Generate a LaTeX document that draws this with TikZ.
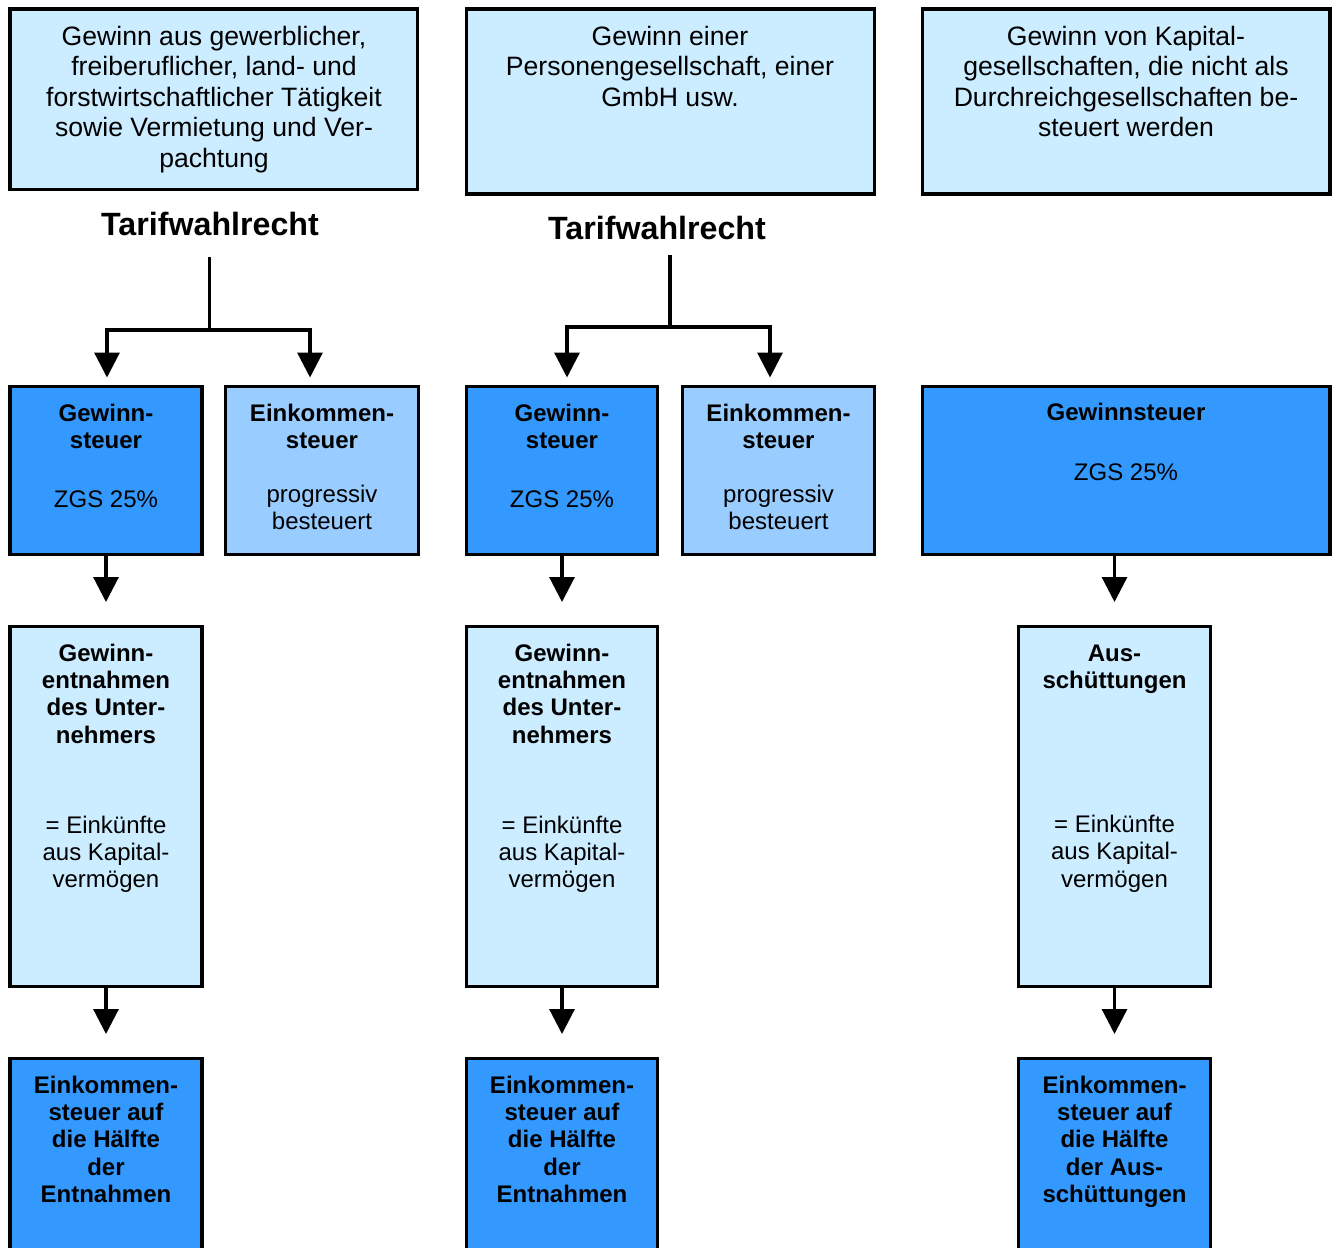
\documentclass[tikz,border=0pt]{standalone}
\usepackage{fontspec}
\setmainfont{Liberation Sans}
\usetikzlibrary{arrows.meta}
\definecolor{cLight}{HTML}{CCECFF}
\definecolor{cMid}{HTML}{3399FF}
\definecolor{cPale}{HTML}{99CCFF}
\begin{document}
\begin{tikzpicture}[x=1pt,y=-1pt,
  box/.style={draw=black, line width=3.3pt, inner sep=0pt, outer sep=0pt},
  lightbox/.style={box, fill=cLight},
  midbox/.style={box, fill=cMid},
  palebox/.style={box, fill=cPale},
  txt/.style={anchor=north, inner sep=0pt, align=center},
  bigtxt/.style={txt, font=\fontsize{26.6}{30.5}\selectfont},
  smalltxt/.style={txt, font=\fontsize{24}{27.3}\selectfont},
  boldtxt/.style={txt, font=\fontsize{24}{27.3}\selectfont\bfseries},
  headtxt/.style={anchor=base, inner sep=0pt, font=\fontsize{32.2}{36}\selectfont\bfseries},
  conn/.style={line width=3.2pt, -{Triangle[width=25pt,length=25pt]}},
]
\clip (0,0) rectangle (1340,1247);

% top row
\node[lightbox, minimum width=407.5pt, minimum height=180.5pt] (top1) at (213.75,99.25) {};
\node[lightbox, minimum width=408pt, minimum height=185pt] (top2) at (670.5,101.5) {};
\node[lightbox, minimum width=407.5pt, minimum height=185pt] (top3) at (1126.25,101.5) {};
\node[bigtxt] (top1t) at (214,19) {\rule{0pt}{26pt}Gewinn aus gewerblicher,\\freiberuflicher, land- und\\forstwirtschaftlicher Tätigkeit\\sowie Vermietung und Ver-\\pachtung};
\node[bigtxt] (top2t) at (670,19) {\rule{0pt}{26pt}Gewinn einer\\Personengesellschaft, einer\\GmbH usw.};
\node[bigtxt] (top3t) at (1126,19) {\rule{0pt}{26pt}Gewinn von Kapital-\\gesellschaften, die nicht als\\Durchreichgesellschaften be-\\steuert werden};

% Tarifwahlrecht labels
\node[headtxt] (tw1) at (210,235) {Tarifwahlrecht};
\node[headtxt] (tw2) at (657,239) {Tarifwahlrecht};

% second row
\node[midbox, minimum width=192pt, minimum height=168pt] (gs1) at (106,470.5) {};
\node[palebox, minimum width=193pt, minimum height=168pt] (es1) at (322,470.5) {};
\node[midbox, minimum width=191pt, minimum height=168pt] (gs2) at (562,470.5) {};
\node[palebox, minimum width=192pt, minimum height=168pt] (es2) at (778.5,470.5) {};
\node[midbox, minimum width=407.5pt, minimum height=168pt] (gs3) at (1126.25,470.5) {};
\node[smalltxt] (gs1t) at (106,397) {\rule{0pt}{24pt}\textbf{Gewinn-}\\\textbf{steuer}\\[31.7pt]ZGS 25\%};
\node[smalltxt] (es1t) at (322,397) {\rule{0pt}{24pt}\textbf{Einkommen-}\\\textbf{steuer}\\[26.7pt]progressiv\\besteuert};
\node[smalltxt] (gs2t) at (562,397) {\rule{0pt}{24pt}\textbf{Gewinn-}\\\textbf{steuer}\\[31.7pt]ZGS 25\%};
\node[smalltxt] (es2t) at (778.5,397) {\rule{0pt}{24pt}\textbf{Einkommen-}\\\textbf{steuer}\\[26.7pt]progressiv\\besteuert};
\node[smalltxt] (gs3t) at (1126,396) {\rule{0pt}{24pt}\textbf{Gewinnsteuer}\\[32.7pt]ZGS 25\%};

% third row
\node[lightbox, minimum width=192pt, minimum height=360pt] (en1) at (106,806.5) {};
\node[lightbox, minimum width=191pt, minimum height=360pt] (en2) at (562,806.5) {};
\node[lightbox, minimum width=192pt, minimum height=360pt] (en3) at (1114.5,806.5) {};
\node[smalltxt] (en1t) at (106,637) {\rule{0pt}{24pt}\textbf{Gewinn-}\\\textbf{entnahmen}\\\textbf{des Unter-}\\\textbf{nehmers}\\[62.7pt]= Einkünfte\\aus Kapital-\\vermögen};
\node[smalltxt] (en2t) at (562,637) {\rule{0pt}{24pt}\textbf{Gewinn-}\\\textbf{entnahmen}\\\textbf{des Unter-}\\\textbf{nehmers}\\[62.7pt]= Einkünfte\\aus Kapital-\\vermögen};
\node[smalltxt] (en3t) at (1114.5,637) {\rule{0pt}{24pt}\textbf{Aus-}\\\textbf{schüttungen}\\[116.7pt]= Einkünfte\\aus Kapital-\\vermögen};

% fourth row
\node[midbox, minimum width=192pt, minimum height=202pt] (ek1) at (106,1159.5) {};
\node[midbox, minimum width=191pt, minimum height=202pt] (ek2) at (562,1159.5) {};
\node[midbox, minimum width=192pt, minimum height=202pt] (ek3) at (1114.5,1159.5) {};
\node[boldtxt] (ek1t) at (106,1069) {\rule{0pt}{24pt}Einkommen-\\steuer auf\\die Hälfte\\der\\Entnahmen};
\node[boldtxt] (ek2t) at (562,1069) {\rule{0pt}{24pt}Einkommen-\\steuer auf\\die Hälfte\\der\\Entnahmen};
\node[boldtxt] (ek3t) at (1114.5,1069) {\rule{0pt}{24pt}Einkommen-\\steuer auf\\die Hälfte\\der Aus-\\schüttungen};

% Tarifwahlrecht branches
\coordinate (s1) at (209.5,257);
\coordinate (j1) at (209.5,330);
\coordinate (s2) at (670,255);
\coordinate (j2) at (670,327);
\draw[line width=3.2pt] (s1) -- (j1);
\draw[conn, shorten >=9pt] (j1) -| ([xshift=1pt]gs1.north);
\draw[conn, shorten >=9pt] (j1) -| ([xshift=-12pt]es1.north);
\draw[line width=3.2pt] (s2) -- (j2);
\draw[conn, shorten >=9pt] (j2) -| ([xshift=5pt]gs2.north);
\draw[conn, shorten >=9pt] (j2) -| ([xshift=-8.5pt]es2.north);

% vertical flow arrows
\draw[conn, shorten >=24.5pt] (gs1.south) -- (en1.north);
\draw[conn, shorten >=24.5pt] (gs2.south) -- (en2.north);
\draw[conn, shorten >=24.5pt] (gs3.south -| en3.north) -- (en3.north);
\draw[conn, shorten >=24.5pt] (en1.south) -- (ek1.north);
\draw[conn, shorten >=24.5pt] (en2.south) -- (ek2.north);
\draw[conn, shorten >=24.5pt] (en3.south) -- (ek3.north);
\end{tikzpicture}
\end{document}
